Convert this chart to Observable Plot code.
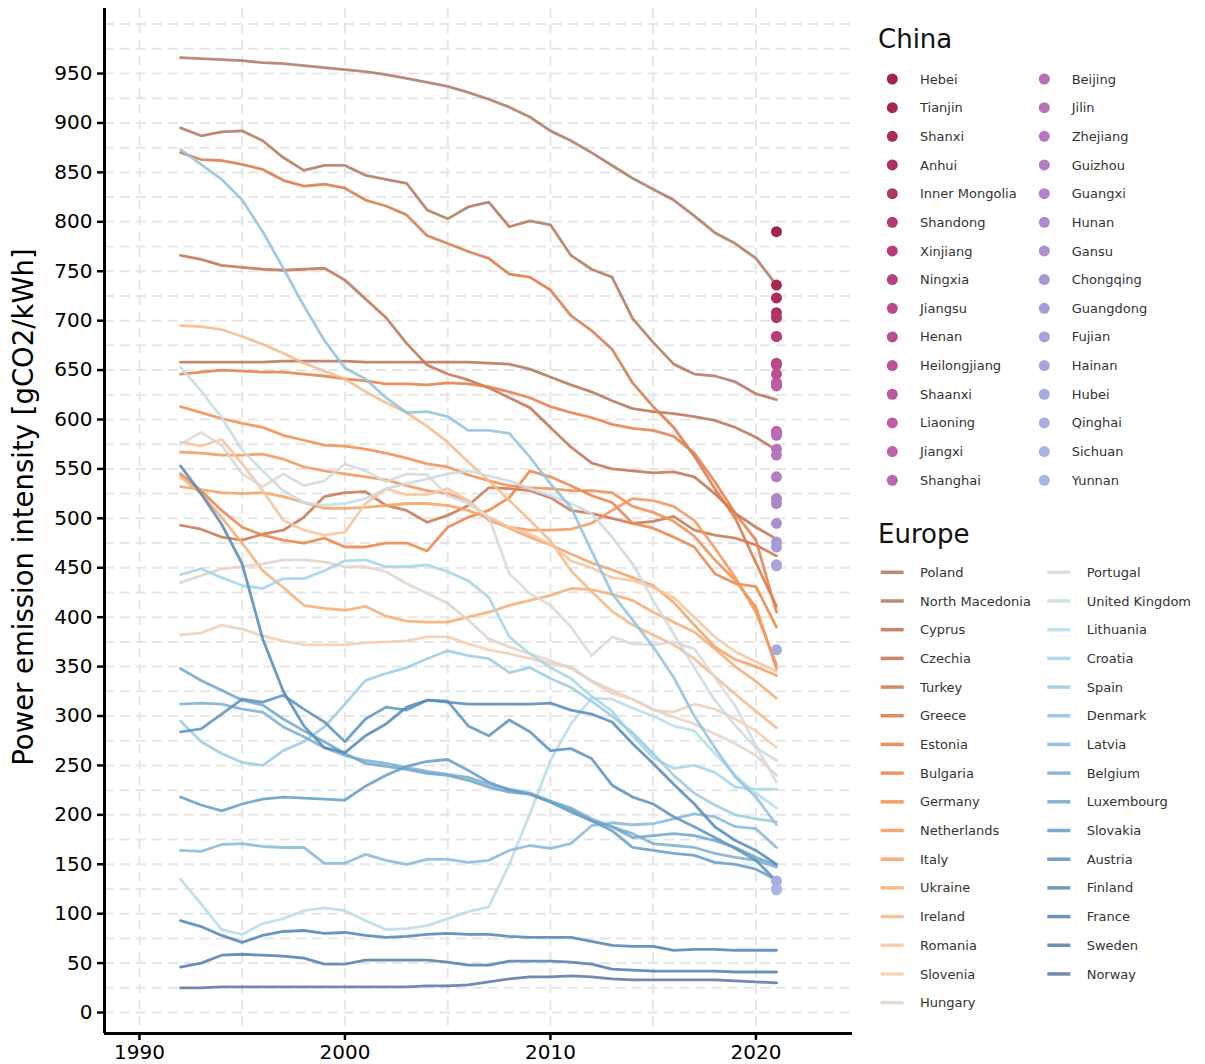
<!DOCTYPE html>
<html><head><meta charset="utf-8">
<script src="https://cdn.jsdelivr.net/npm/d3@7"></script>
<script src="https://cdn.jsdelivr.net/npm/@observablehq/plot@0.6"></script>
<style>
body{margin:0;background:#fff;font-family:"DejaVu Sans",sans-serif;}
#wrap{position:relative;width:1205px;height:1064px;overflow:hidden;}
#chart{position:absolute;left:0;top:0;}
#legend{position:absolute;left:860px;top:0;}
</style>
</head><body>
<div id="wrap"><div id="chart"></div><svg id="legend" width="345" height="1064"></svg></div>
<script>
// ---------- data ----------
const years = [1992,1993,1994,1995,1996,1997,1998,1999,2000,2001,2002,2003,2004,2005,2006,2007,2008,2009,2010,2011,2012,2013,2014,2015,2016,2017,2018,2019,2020,2021];

const poland         = [966,965,964,963,961,960,958,956,954,952,949,945,941,937,931,924,916,906,892,882,870,857,844,833,822,806,789,778,763,736];
const northMacedonia = [895,887,891,892,882,865,852,857,857,847,843,839,812,803,815,820,795,801,797,766,752,744,702,678,656,646,644,638,626,620];
const cyprus         = [658,658,658,658,658,659,659,659,659,658,658,658,658,658,658,657,656,651,643,635,628,619,611,608,606,603,599,592,582,569];
const czechia        = [766,762,756,754,752,751,752,753,741,722,703,677,655,646,640,632,622,612,592,572,556,550,548,546,547,542,525,505,491,479];
const turkey         = [493,489,481,478,484,488,501,522,526,527,513,508,496,503,513,531,530,528,521,508,505,500,495,497,502,488,483,480,473,462];
const greece         = [870,863,862,858,853,842,836,838,834,822,816,807,786,778,770,763,747,744,731,705,690,671,637,613,592,563,530,500,455,411];
const estonia        = [646,648,650,649,648,648,646,644,641,639,636,636,635,637,636,633,628,622,613,607,602,595,591,589,583,566,537,505,478,405];
const bulgaria       = [545,528,508,491,483,478,475,480,471,471,475,475,467,491,501,508,521,548,542,533,523,516,495,490,481,471,444,434,431,390];
const germany        = [613,607,601,596,592,584,579,574,573,570,566,561,555,552,544,538,533,531,530,528,528,526,512,506,497,482,458,437,410,348];
const netherlands    = [567,566,564,564,565,560,552,548,545,542,539,533,528,525,518,498,491,488,488,489,495,508,520,518,512,498,470,440,405,352];
const italy          = [532,529,526,525,526,522,516,510,510,511,513,515,515,513,508,500,490,481,473,464,455,448,440,432,415,392,370,357,350,341];
const ukraine        = [542,525,501,475,447,430,412,409,407,411,401,396,395,395,400,405,412,417,422,429,428,423,417,405,395,385,368,350,335,318];
const ireland        = [695,694,691,684,676,667,657,649,641,628,617,607,593,577,557,538,518,498,477,447,426,406,392,382,372,358,340,322,305,288];
const romania        = [577,573,580,555,528,498,488,483,486,515,530,524,524,530,518,501,491,484,474,457,450,440,437,430,420,400,380,365,355,345];
const slovenia       = [382,384,392,388,381,376,372,372,372,374,375,376,380,380,373,367,363,358,353,350,335,323,317,306,304,312,307,297,285,268];
const hungary        = [435,442,449,451,454,458,458,456,451,451,446,434,424,414,397,378,370,363,356,348,336,326,317,307,299,292,282,272,260,240];
const portugal       = [575,587,574,545,532,545,533,538,555,548,537,545,544,523,515,501,444,424,412,390,361,380,373,372,375,368,339,310,270,233];
const unitedKingdom  = [653,629,602,569,548,528,516,513,515,520,530,535,540,545,548,543,538,530,523,515,505,481,454,417,383,349,316,290,268,255];
const lithuania      = [135,110,84,79,90,95,103,106,103,93,84,85,88,95,102,107,150,201,255,292,318,317,308,300,290,285,262,240,222,207];
const croatia        = [443,449,440,432,429,439,439,447,457,458,451,451,453,446,437,420,380,363,349,338,320,305,280,258,247,250,243,228,226,226];
const spain          = [295,274,262,253,250,265,274,289,312,336,343,349,358,366,361,358,344,349,338,329,315,300,283,262,240,222,210,200,196,193];
const denmark        = [873,858,843,822,790,753,715,680,652,641,622,607,608,603,589,589,586,562,535,511,467,424,397,370,339,300,268,238,218,190];
const latvia         = [164,163,170,171,168,167,167,151,151,160,154,150,155,155,152,154,164,169,166,171,189,192,190,191,196,201,198,188,186,167];
const belgium        = [312,313,312,307,304,289,279,268,260,255,252,248,244,241,238,231,226,222,214,207,196,188,181,171,169,167,161,157,154,147];
const luxembourg     = [348,336,326,316,311,297,285,274,262,252,249,246,242,240,235,228,223,221,213,205,194,188,177,179,181,179,174,167,157,149];
const slovakia       = [218,210,204,211,216,218,217,216,215,229,240,249,254,256,245,233,225,221,213,203,194,184,167,164,161,159,152,150,145,134];
const austria        = [284,287,302,317,314,321,307,294,274,297,309,306,316,315,290,280,296,284,265,267,257,230,218,211,198,188,177,166,154,133];
const finland        = [553,525,494,454,378,325,290,268,263,280,292,309,316,314,312,312,312,312,313,306,302,294,272,252,231,211,188,174,164,150];
const france         = [93,87,78,71,78,82,83,80,81,78,76,77,79,80,79,79,77,76,76,76,72,68,67,67,63,64,64,63,63,63];
const sweden         = [46,50,58,59,58,57,55,49,49,53,53,53,53,51,48,48,52,52,52,51,49,44,43,42,42,42,42,41,41,41];
const norway         = [25,25,26,26,26,26,26,26,26,26,26,26,27,27,28,31,34,36,36,37,36,34,33,33,33,33,33,32,31,30];

const europeCountries = ["Poland","North Macedonia","Cyprus","Czechia","Turkey","Greece","Estonia","Bulgaria","Germany","Netherlands","Italy","Ukraine","Ireland","Romania","Slovenia","Hungary","Portugal","United Kingdom","Lithuania","Croatia","Spain","Denmark","Latvia","Belgium","Luxembourg","Slovakia","Austria","Finland","France","Sweden","Norway"];
const europeSeries = [poland,northMacedonia,cyprus,czechia,turkey,greece,estonia,bulgaria,germany,netherlands,italy,ukraine,ireland,romania,slovenia,hungary,portugal,unitedKingdom,lithuania,croatia,spain,denmark,latvia,belgium,luxembourg,slovakia,austria,finland,france,sweden,norway];

const chinaYear = 2021;
const chinaProvinces = ["Hebei","Tianjin","Shanxi","Anhui","Inner Mongolia","Shandong","Xinjiang","Ningxia","Jiangsu","Henan","Heilongjiang","Shaanxi","Liaoning","Jiangxi","Shanghai","Beijing","Jilin","Zhejiang","Guizhou","Guangxi","Hunan","Gansu","Chongqing","Guangdong","Fujian","Hainan","Hubei","Qinghai","Sichuan","Yunnan"];
const chinaIntensity = [790,736,723,708,703,684,684,657,655,646,637,635,634,588,587,584,570,564,542,520,515,495,476,471,453,452,367,133,125,124];

const yTicks = [0,50,100,150,200,250,300,350,400,450,500,550,600,650,700,750,800,850,900,950];
const xTicks = [1990,2000,2010,2020];
const yLabel = "Power emission intensity [gCO2/kWh]";

// ---------- styles ----------
const europeColors = ["#b07b66","#b47a62","#ba775b","#c17756","#cb7952","#da7b4c","#e4814b","#ec874c","#f18f52","#f4995e","#f5a369","#f6af78","#f6bb8b","#f6c7a0","#f2cfb3","#e4d4c8","#d9d9d9","#c9dce3","#b8dde9","#a6d6e9","#9ccde4","#93c4df","#8abbd9","#7eb1d3","#72a7cd","#679ec8","#5d95c3","#578dbd","#5586b8","#5880b0","#5e79a7"];
const chinaInterp = d3.interpolateRgbBasis(["#a3234b","#b2346a","#bd4a8c","#bf5ea8","#b774bf","#ab8ecf","#a7a6dd","#a9b6e3"]);
const chinaColors = chinaProvinces.map((_, i) => chinaInterp(i / (chinaProvinces.length - 1)));

const xDomain = [1988.3, 2024.7];
const yDomain = [-21.2, 1015.8];
const gridY = d3.range(0, 1001, 25);
const gridX = d3.range(1990, 2021, 5);

// ---------- tables ----------
const europeRows = europeCountries.flatMap((c, i) => years.map((y, j) => ({country: c, year: y, value: europeSeries[i][j]})));
const chinaRows = chinaProvinces.map((p, i) => ({province: p, year: chinaYear, value: chinaIntensity[i]}));

const chart = Plot.plot({
  width: 860, height: 1064,
  marginLeft: 104, marginRight: 8, marginTop: 8, marginBottom: 31,
  style: {fontFamily: "DejaVu Sans", fontSize: "20px", color: "black", background: "white"},
  x: {domain: xDomain, label: null},
  y: {domain: yDomain, label: null},
  color: {type: "ordinal", domain: [...europeCountries, ...chinaProvinces], range: [...europeColors, ...chinaColors]},
  marks: [
    Plot.ruleY(gridY, {stroke: "#e6e6e6", strokeWidth: 2, strokeDasharray: "10,6"}),
    Plot.ruleX(gridX, {stroke: "#e6e6e6", strokeWidth: 2, strokeDasharray: "10,6"}),
    Plot.line(europeRows, {x: "year", y: "value", z: "country", stroke: "country", strokeWidth: 2.8, strokeOpacity: 0.88}),
    Plot.dot(chinaRows, {x: "year", y: "value", fill: "province", r: 5.5, stroke: null}),
    Plot.axisY(yTicks, {tickSize: 7, tickPadding: 5, fontSize: 20, strokeWidth: 2.5, label: null}),
    Plot.axisX(xTicks, {tickSize: 7, tickPadding: 4, fontSize: 20, strokeWidth: 2.5, tickFormat: "d", label: null}),
    Plot.ruleX([xDomain[0]], {stroke: "black", strokeWidth: 3}),
    Plot.ruleY([yDomain[0]], {stroke: "black", strokeWidth: 3}),
    Plot.text([yLabel], {text: d => d, frameAnchor: "left", textAnchor: "middle", rotate: -90, dx: -80, dy: -14, fontSize: 27.5})
  ]
});
document.getElementById("chart").appendChild(chart);

// ---------- legend ----------
const leg = d3.select("#legend");
const txtFill = "#333";
leg.append("text").attr("x", 18).attr("y", 48).attr("font-size", 26).attr("font-family", "DejaVu Sans").attr("fill", "#111").text("China");
chinaProvinces.forEach((p, i) => {
  const col = i < 15 ? 0 : 1, row = i % 15;
  const cy = 79 + row * 28.66;
  const cx = col === 0 ? 32.3 : 184.3;
  const tx = col === 0 ? 60 : 211.7;
  leg.append("circle").attr("cx", cx).attr("cy", cy).attr("r", 5.5).attr("fill", chinaColors[i]);
  leg.append("text").attr("x", tx).attr("y", cy).attr("dy", "0.35em").attr("font-size", 13).attr("font-family", "DejaVu Sans").attr("fill", txtFill).text(p);
});
leg.append("text").attr("x", 18).attr("y", 543).attr("font-size", 26).attr("font-family", "DejaVu Sans").attr("fill", "#111").text("Europe");
europeCountries.forEach((c, i) => {
  const col = i < 16 ? 0 : 1, row = i < 16 ? i : i - 16;
  const cy = 572.3 + row * 28.69;
  const x1 = col === 0 ? 20.7 : 187.3;
  const tx = col === 0 ? 60 : 226.7;
  leg.append("line").attr("x1", x1).attr("x2", x1 + 23).attr("y1", cy).attr("y2", cy).attr("stroke", europeColors[i]).attr("stroke-width", 3.5).attr("stroke-opacity", 0.88);
  leg.append("text").attr("x", tx).attr("y", cy).attr("dy", "0.35em").attr("font-size", 13).attr("font-family", "DejaVu Sans").attr("fill", txtFill).text(c);
});
</script>
</body></html>
